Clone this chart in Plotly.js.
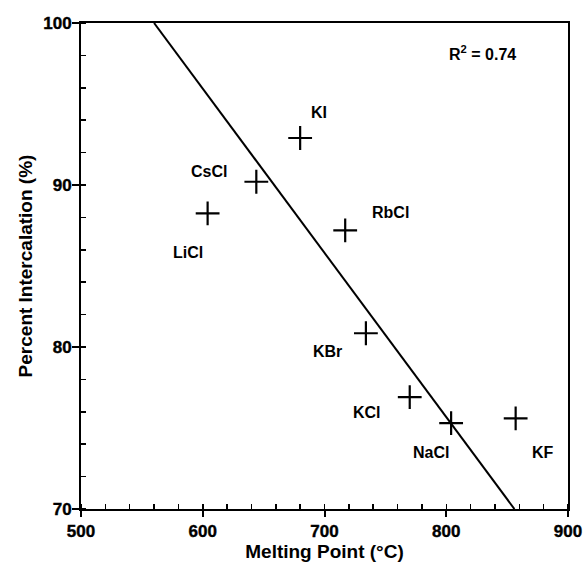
<!DOCTYPE html>
<html>
<head>
<meta charset="utf-8">
<script src="https://cdn.plot.ly/plotly-3.0.1.min.js"></script>
<style>
html,body{margin:0;padding:0;background:#fff;}
#chart{width:586px;height:564px;}
#chart .xtick text, #chart .ytick text { font-weight: 700 !important; stroke: #000; stroke-width: 0.4px; }
</style>
</head>
<body>
<div id="chart"></div>
<script>
// Data
const salts = ["KI", "CsCl", "LiCl", "RbCl", "KBr", "KCl", "NaCl", "KF"];
const meltingPoint = [680, 644, 604, 717, 734, 770, 804, 857];
const intercalation = [92.9, 90.2, 88.25, 87.2, 80.85, 76.9, 75.3, 75.6];
// Regression line end points
const fitX = [560, 856];
const fitY = [100, 70];
const rSquared = "0.74";
// Tick labels
const xTicks = [500, 600, 700, 800, 900];
const yTicks = [70, 80, 90, 100];

// Label offsets in pixels (layout only)
const labelDX = [19, -47, -20, 45, -38, -43, -20, 27];
const labelDY = [-26, -10, 39, -18, 18, 15, 29, 34];

const font = "Liberation Sans, Arial, Helvetica, sans-serif";

const traces = [
  {
    x: fitX, y: fitY, mode: "lines", type: "scatter",
    line: {color: "#000", width: 2}, hoverinfo: "skip", showlegend: false
  },
  {
    x: meltingPoint, y: intercalation, mode: "markers", type: "scatter",
    marker: {symbol: "cross-thin", size: 17, line: {color: "#000", width: 2.2}, color: "#000"},
    text: salts, showlegend: false
  }
];

const annotations = salts.map((s, i) => ({
  x: meltingPoint[i], y: intercalation[i], xref: "x", yref: "y",
  text: "<b>" + s + "</b>", showarrow: false,
  xanchor: "center", yanchor: "middle",
  xshift: labelDX[i], yshift: -labelDY[i],
  font: {family: font, size: 16, color: "#000"}
}));
annotations.push({
  xref: "paper", yref: "paper", x: 0.825, y: 0.938,
  xanchor: "center", yanchor: "middle",
  text: "<b>R<sup>2</sup> = " + rSquared + "</b>", showarrow: false,
  font: {family: font, size: 16, color: "#000"}
});

const layout = {
  width: 586, height: 564,
  margin: {l: 81, r: 18, t: 23, b: 55},
  paper_bgcolor: "#fff", plot_bgcolor: "#fff",
  showlegend: false,
  xaxis: {
    range: [500, 900], tickmode: "array", tickvals: xTicks,
    ticktext: xTicks.map(v => "<b>" + v + "</b>"),
    showgrid: false, zeroline: false,
    showline: true, linecolor: "#000", linewidth: 2, mirror: true,
    ticks: "outside", ticklen: 6, tickwidth: 2, tickcolor: "#000",
    minor: {dtick: 20, ticks: "inside", ticklen: 5, tickwidth: 1.5, tickcolor: "#000", showgrid: false},
    tickfont: {family: font, size: 17, color: "#000", weight: 700},
    title: {text: "<b>Melting Point (°C)</b>", font: {family: font, size: 19, color: "#000"}, standoff: 4}
  },
  yaxis: {
    range: [70, 100], tickmode: "array", tickvals: yTicks,
    ticktext: yTicks.map(v => "<b>" + v + "</b>"),
    showgrid: false, zeroline: false,
    showline: true, linecolor: "#000", linewidth: 2, mirror: true,
    ticks: "outside", ticklen: 7, tickwidth: 2, tickcolor: "#000",
    ticklabelstandoff: -3,
    minor: {dtick: 2, ticks: "inside", ticklen: 5, tickwidth: 1.5, tickcolor: "#000", showgrid: false},
    tickfont: {family: font, size: 17, color: "#000", weight: 700},
    title: {text: "<b>Percent Intercalation (%)</b>", font: {family: font, size: 19, color: "#000"}, standoff: 6}
  },
  annotations: annotations
};

Plotly.newPlot("chart", traces, layout, {displayModeBar: false, staticPlot: true});
</script>
</body>
</html>
